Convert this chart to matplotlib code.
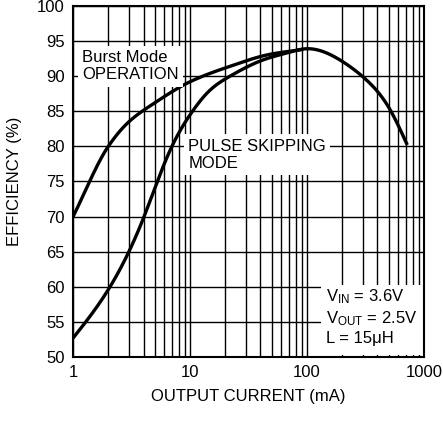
import matplotlib
matplotlib.use("Agg")
import matplotlib.pyplot as plt
from matplotlib.patches import Rectangle
from matplotlib.ticker import FixedLocator, NullFormatter, NullLocator
import numpy as np

plt.rcParams['font.family'] = ['Liberation Sans Narrow', 'Liberation Sans', 'DejaVu Sans']
plt.rcParams['mathtext.fontset'] = 'custom'
plt.rcParams['mathtext.rm'] = 'Liberation Sans'
plt.rcParams['mathtext.it'] = 'Liberation Sans'

# Burst Mode operation
burst_i = [1, 2, 3, 5, 10, 22, 48, 93]
burst_eff = [70, 80, 83.5, 86.2, 89.2, 91.4, 93.1, 93.8]

# pulse skipping mode
pulse_i = [1, 2, 3, 4, 5.25, 7, 10.5, 14, 22, 42, 67, 100,
           200, 320, 510, 720]
pulse_eff = [52.7, 59.6, 65, 69.8, 75, 80, 85, 87.6, 90, 92.3, 93.3, 93.9,
             92.1, 89.5, 85.3, 80.2]

yticks = [50, 55, 60, 65, 70, 75, 80, 85, 90, 95, 100]
xticks = [1, 10, 100, 1000]
xtick_labels = ['1', '10', '100', '1000']


def pchip(x, y, n=500):
    # monotone cubic interpolation on log10(x)
    t = np.log10(np.asarray(x, float))
    y = np.asarray(y, float)
    h = np.diff(t)
    d = np.diff(y) / h
    m = np.zeros_like(y)
    m[0], m[-1] = d[0], d[-1]
    for i in range(1, len(y) - 1):
        if d[i - 1] * d[i] > 0:
            w1 = 2 * h[i] + h[i - 1]
            w2 = h[i] + 2 * h[i - 1]
            m[i] = (w1 + w2) / (w1 / d[i - 1] + w2 / d[i])
    ts = np.linspace(t[0], t[-1], n)
    idx = np.clip(np.searchsorted(t, ts, side='right') - 1, 0, len(h) - 1)
    s = (ts - t[idx]) / h[idx]
    hh = h[idx]
    ys = ((2 * s**3 - 3 * s**2 + 1) * y[idx] + (s**3 - 2 * s**2 + s) * hh * m[idx]
          + (-2 * s**3 + 3 * s**2) * y[idx + 1] + (s**3 - s**2) * hh * m[idx + 1])
    return 10**ts, ys


def spline(x, y, n=500):
    # natural cubic spline through the points, on log10(x)
    t = np.log10(np.asarray(x, float))
    y = np.asarray(y, float)
    k = len(t)
    h = np.diff(t)
    A = np.zeros((k, k))
    r = np.zeros(k)
    A[0, 0] = A[-1, -1] = 1
    for i in range(1, k - 1):
        A[i, i - 1] = h[i - 1]
        A[i, i] = 2 * (h[i - 1] + h[i])
        A[i, i + 1] = h[i]
        r[i] = 6 * ((y[i + 1] - y[i]) / h[i] - (y[i] - y[i - 1]) / h[i - 1])
    M = np.linalg.solve(A, r)
    ts = np.linspace(t[0], t[-1], n)
    idx = np.clip(np.searchsorted(t, ts, side='right') - 1, 0, k - 2)
    a = t[idx + 1] - ts
    b = ts - t[idx]
    hh = h[idx]
    ys = (M[idx] * a**3 / (6 * hh) + M[idx + 1] * b**3 / (6 * hh)
          + (y[idx] / hh - M[idx] * hh / 6) * a + (y[idx + 1] / hh - M[idx + 1] * hh / 6) * b)
    return 10**ts, ys


fig = plt.figure(figsize=(4.43, 4.21), dpi=100)
ax = fig.add_axes([0.165, 0.152, 0.792, 0.834])

ax.set_xscale('log')
ax.set_xlim(1, 1000)
ax.set_ylim(50, 100)

minor = [m * 10**e for e in range(0, 3) for m in range(2, 10)]
ax.xaxis.set_major_locator(FixedLocator(xticks))
ax.set_xticklabels(xtick_labels)
ax.xaxis.set_minor_locator(FixedLocator(minor))
ax.xaxis.set_minor_formatter(NullFormatter())
ax.set_yticks(yticks)
ax.yaxis.set_minor_locator(NullLocator())

ax.grid(True, which='both', color='black', lw=1.0)
ax.tick_params(which='both', length=0, labelsize=12, pad=6)
for s in ax.spines.values():
    s.set_linewidth(1.5)
    s.set_zorder(6)

bx, by = pchip(burst_i, burst_eff)
px, py = spline(pulse_i, pulse_eff)
ax.plot(bx, by, color='black', lw=2.4, zorder=3, solid_capstyle='butt')
ax.plot(px, py, color='black', lw=2.4, zorder=3, solid_capstyle='butt')

box = dict(facecolor='white', edgecolor='none', pad=3)
ax.text(1.2, 91.4, 'Burst Mode\nOPERATION', fontsize=12, ha='left', va='center',
        linespacing=1.2, bbox=box, zorder=4)
ax.text(9.7, 78.8, 'PULSE SKIPPING\nMODE', fontsize=12, ha='left', va='center',
        linespacing=1.2, bbox=box, zorder=4)

ax.add_patch(Rectangle((0.706, 0.006), 0.29, 0.2, transform=ax.transAxes,
                       facecolor='white', edgecolor='none', zorder=4))
ax.text(145, 55.7, 'V$_{\\mathrm{IN}}$ = 3.6V\nV$_{\\mathrm{OUT}}$ = 2.5V\nL = 15μH',
        fontsize=12, ha='left', va='center', linespacing=1.25, zorder=5)

ax.set_xlabel('OUTPUT CURRENT (mA)', fontsize=12, labelpad=6)
ax.set_ylabel('EFFICIENCY (%)', fontsize=12, labelpad=11)

fig.savefig('out.png', dpi=100)
